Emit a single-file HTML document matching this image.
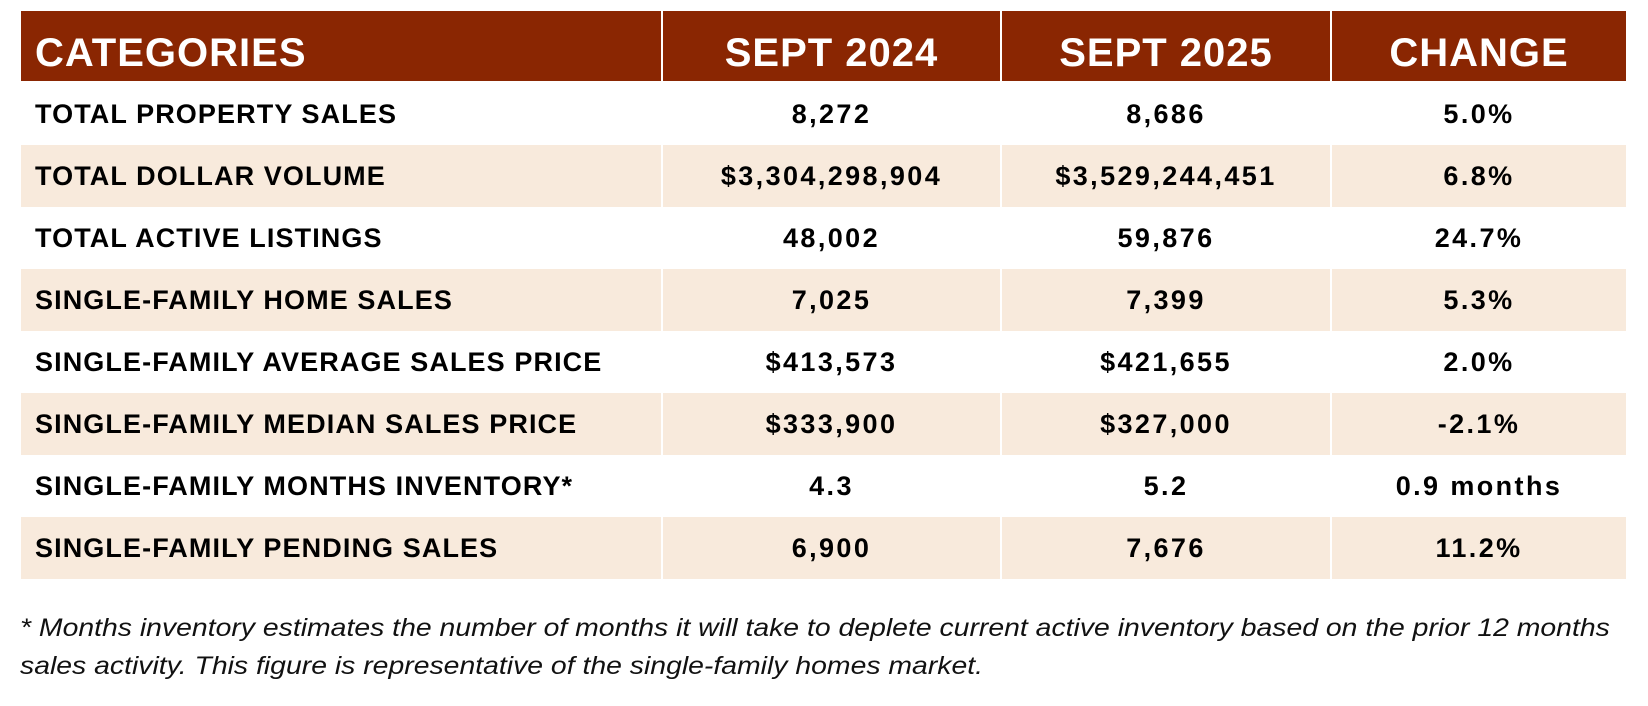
<!DOCTYPE html>
<html><head><meta charset="utf-8"><style>
body{margin:0;width:1648px;height:706px;background:#fff;font-family:"Liberation Sans",sans-serif;position:relative;overflow:hidden}
table{position:absolute;left:21px;top:11px;border-collapse:collapse;width:1605px}
td,th{padding:0;border-left:2px solid #fff;font-weight:bold;color:#000;text-align:center;font-size:27px;letter-spacing:2.4px}
td:first-child,th:first-child{border-left:none;text-align:left;padding-left:14px;letter-spacing:1.1px}
th{background:#8a2602;color:#fff;font-size:40px;height:71px;border-bottom:2px solid #fff;letter-spacing:1px!important;padding-top:14px;box-sizing:border-box;vertical-align:middle}
tr.alt td{background:#f8eadc}
td{height:62px}
.note{position:absolute;left:20px;font-style:italic;font-size:25px;color:#111;white-space:nowrap;transform-origin:0 0;transform:scaleX(1.135)}
</style></head><body>
<table>
<colgroup><col style="width:641px"><col style="width:339px"><col style="width:330px"><col style="width:295px"></colgroup>
<tr><th>CATEGORIES</th><th>SEPT 2024</th><th>SEPT 2025</th><th>CHANGE</th></tr>
<tr><td>TOTAL PROPERTY SALES</td><td>8,272</td><td>8,686</td><td>5.0%</td></tr>
<tr class="alt"><td>TOTAL DOLLAR VOLUME</td><td>$3,304,298,904</td><td>$3,529,244,451</td><td>6.8%</td></tr>
<tr><td>TOTAL ACTIVE LISTINGS</td><td>48,002</td><td>59,876</td><td>24.7%</td></tr>
<tr class="alt"><td>SINGLE-FAMILY HOME SALES</td><td>7,025</td><td>7,399</td><td>5.3%</td></tr>
<tr><td>SINGLE-FAMILY AVERAGE SALES PRICE</td><td>$413,573</td><td>$421,655</td><td>2.0%</td></tr>
<tr class="alt"><td>SINGLE-FAMILY MEDIAN SALES PRICE</td><td>$333,900</td><td>$327,000</td><td>-2.1%</td></tr>
<tr><td>SINGLE-FAMILY MONTHS INVENTORY*</td><td>4.3</td><td>5.2</td><td>0.9 months</td></tr>
<tr class="alt"><td>SINGLE-FAMILY PENDING SALES</td><td>6,900</td><td>7,676</td><td>11.2%</td></tr>
</table>
<div class="note" style="top:614px">* Months inventory estimates the number of months it will take to deplete current active inventory based on the prior 12 months</div>
<div class="note" style="top:652px">sales activity. This figure is representative of the single-family homes market.</div>
</body></html>
